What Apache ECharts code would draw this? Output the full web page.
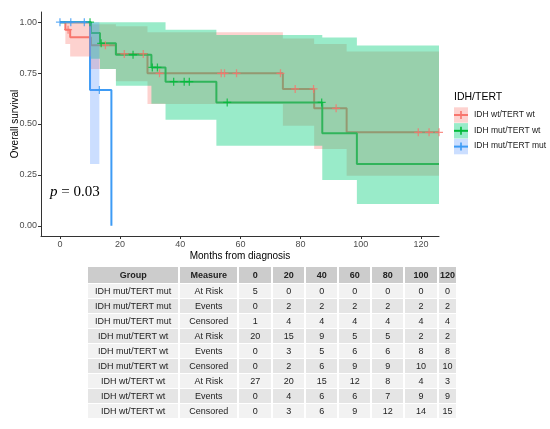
<!DOCTYPE html>
<html>
<head>
<meta charset="utf-8">
<script src="https://cdn.jsdelivr.net/npm/echarts@6.0.0/dist/echarts.min.js"></script>
<style>
  html, body { margin: 0; padding: 0; background: #fff; }
</style>
</head>
<body>
<survival-chart></survival-chart>
<script>
// strata, in legend order
const groups = ['IDH wt/TERT wt', 'IDH mut/TERT wt', 'IDH mut/TERT mut']

// IDH wt/TERT wt : KM steps, conf. band, censor times (months)
const wtwtTimes = [0, 1.8, 3.4, 10.3, 18.6, 29.1, 74.1, 84.5, 95.3, 126]
const wtwtSurv = [1, 0.963, 0.926, 0.887, 0.844, 0.749, 0.672, 0.577, 0.459, 0.459]
const wtwtLower = [1, 0.893, 0.832, 0.77, 0.71, 0.598, 0.491, 0.377, 0.246, 0.246]
const wtwtUpper = [1, 1, 1, 0.99, 0.98, 0.95, 0.92, 0.893, 0.856, 0.856]
const wtwtCensored = [2.7, 15.1, 21.4, 27.7, 33.1, 53.6, 54.7, 58.7, 73.3, 78.2, 84.3, 91.8, 119.1, 122.7, 126]

// IDH mut/TERT wt
const mutwtTimes = [0, 10.3, 13.3, 18.6, 30.4, 35.1, 52.0, 87.2, 98.7, 126]
const mutwtSurv = [1, 0.947, 0.896, 0.840, 0.778, 0.708, 0.606, 0.454, 0.303, 0.303]
const mutwtLower = [1, 0.82, 0.77, 0.688, 0.60, 0.521, 0.393, 0.225, 0.107, 0.107]
const mutwtUpper = [1, 1, 1, 1, 1, 0.963, 0.937, 0.925, 0.885, 0.885]
const mutwtCensored = [10.0, 13.7, 24.3, 30.7, 32.4, 37.8, 41.3, 43.0, 55.6, 87.0]

// IDH mut/TERT mut
const mutmutTimes = [0, 10.0, 13.1, 17.1]
const mutmutSurv = [1, 0.667, 0.667, 0]
const mutmutLower = [1, 0.303, null, null]
const mutmutUpper = [1, 1, null, null]
const mutmutCensored = [0, 3.6, 8.1, 13.1]

const xTicks = [0, 20, 40, 60, 80, 100, 120]
const yTicks = [0, 0.25, 0.5, 0.75, 1]

// numbers at risk table
const tableTimes = [0, 20, 40, 60, 80, 100, 120]
const measures = ['At Risk', 'Events', 'Censored']
const mutmutRisk = [5, 0, 0, 0, 0, 0, 0]
const mutmutEvents = [0, 2, 2, 2, 2, 2, 2]
const mutmutCens = [1, 4, 4, 4, 4, 4, 4]
const mutwtRisk = [20, 15, 9, 5, 5, 2, 2]
const mutwtEvents = [0, 3, 5, 6, 6, 8, 8]
const mutwtCens = [0, 2, 6, 9, 9, 10, 10]
const wtwtRisk = [27, 20, 15, 12, 8, 4, 3]
const wtwtEvents = [0, 4, 6, 6, 7, 9, 9]
const wtwtCens = [0, 3, 6, 9, 12, 14, 15]

const lineColors = ['#F8766D', '#00BA38', '#3D9BF5']
const bandColors = ['rgba(248,118,109,0.33)', 'rgba(0,205,120,0.40)', 'rgba(97,156,255,0.33)']

class SurvivalChart extends HTMLElement {
    shell = null
    chart = null

    connectedCallback() {
        this.shell = this.render()
        this.setupShadow(this.shell, this.css())
        this.drawCurves()
        this.drawTable()
    }

    render() {
        const shell = document.createElement('div')
        shell.setAttribute('class', 'wrap')
        const plot = document.createElement('div')
        plot.setAttribute('class', 'chart')
        shell.appendChild(plot)
        return shell
    }

    // survival just before time t (for placing censor ticks)
    survAt(times, surv, t) {
        let s = surv[0]
        for (let i = 0; i < times.length; i++) {
            if (times[i] <= t) s = surv[i]
        }
        return s
    }

    bandSeries(times, lower, upper, color) {
        return {
            type: 'custom',
            z: 3,
            silent: true,
            data: [[0, 0]],
            renderItem: (params, api) => {
                const top = []
                const back = []
                for (let i = 0; i < times.length - 1; i++) {
                    if (lower[i] == null) continue
                    top.push(api.coord([times[i], upper[i]]), api.coord([times[i + 1], upper[i]]))
                }
                for (let i = times.length - 2; i >= 0; i--) {
                    if (lower[i] == null) continue
                    back.push(api.coord([times[i + 1], lower[i]]), api.coord([times[i], lower[i]]))
                }
                return {
                    type: 'polygon',
                    shape: { points: top.concat(back) },
                    style: { fill: color }
                }
            }
        }
    }

    drawCurves() {
        const strata = [
            [wtwtTimes, wtwtSurv, wtwtLower, wtwtUpper, wtwtCensored],
            [mutwtTimes, mutwtSurv, mutwtLower, mutwtUpper, mutwtCensored],
            [mutmutTimes, mutmutSurv, mutmutLower, mutmutUpper, mutmutCensored]
        ]
        const lines = strata.map((s, k) => ({
            name: groups[k],
            type: 'line',
            step: 'end',
            z: 2,
            silent: true,
            showSymbol: false,
            data: s[0].map((t, i) => [t, s[1][i]]),
            lineStyle: { color: lineColors[k], width: 2 }
        }))
        const bands = strata.map((s, k) => this.bandSeries(s[0], s[2], s[3], bandColors[k]))
        const marks = strata.map((s, k) => ({
            type: 'scatter',
            z: 4,
            silent: true,
            symbol: 'path://M4.2,0H5.8V4.2H10V5.8H5.8V10H4.2V5.8H0V4.2H4.2Z',
            symbolSize: 8,
            itemStyle: { color: lineColors[k] },
            data: s[4].map(t => [t, this.survAt(s[0], s[1], t)])
        }))

        // legend drawn by hand, ggplot style keys
        const legend = [{
            type: 'text', left: 454, top: 92,
            style: { text: 'IDH/TERT', fontSize: 10.5, fill: '#000', fontFamily: 'Liberation Sans' }
        }]
        groups.forEach((g, k) => {
            const cy = 115 + 15.8 * k
            legend.push(
                { type: 'rect', shape: { x: 454, y: cy - 7.7, width: 14, height: 15.4 }, style: { fill: bandColors[k] } },
                { type: 'line', shape: { x1: 454, y1: cy, x2: 468, y2: cy }, style: { stroke: lineColors[k], lineWidth: 2 } },
                { type: 'line', shape: { x1: 461, y1: cy - 4, x2: 461, y2: cy + 4 }, style: { stroke: lineColors[k], lineWidth: 1.6 } },
                {
                    type: 'text', left: 474, top: cy - 5,
                    style: { text: g, fontSize: 8.5, fill: '#1a1a1a', fontFamily: 'Liberation Sans' }
                }
            )
        })
        legend.push({
            type: 'text', left: 50, top: 185,
            style: {
                text: '{i|p} = 0.03',
                fontFamily: 'Liberation Serif', fontSize: 15, fill: '#000',
                rich: { i: { fontStyle: 'italic', fontFamily: 'Liberation Serif', fontSize: 15 } }
            }
        })

        const option = {
            animation: false,
            textStyle: { fontFamily: 'Liberation Sans, Arial, sans-serif' },
            grid: { left: 41, top: 12, width: 398, height: 224, containLabel: false, outerBoundsMode: 'none' },
            xAxis: {
                type: 'value', min: -6.3, max: 126,
                axisLine: { show: true, onZero: false, lineStyle: { color: '#333', width: 1 } },
                axisTick: { show: true, length: 3, customValues: xTicks, lineStyle: { color: '#333' } },
                axisLabel: { customValues: xTicks, fontSize: 9, color: '#4d4d4d', margin: 4 },
                splitLine: { show: false },
                name: 'Months from diagnosis', nameLocation: 'middle', nameGap: 15.5, nameMoveOverlap: false,
                nameTextStyle: { fontSize: 10, color: '#000' }
            },
            yAxis: {
                type: 'value', min: -0.05, max: 1.05,
                axisLine: { show: true, onZero: false, lineStyle: { color: '#333', width: 1 } },
                axisTick: { show: true, length: 3, customValues: yTicks, lineStyle: { color: '#333' } },
                axisLabel: {
                    customValues: yTicks, fontSize: 9, color: '#4d4d4d', margin: 4,
                    formatter: v => v.toFixed(2)
                },
                splitLine: { show: false },
                name: 'Overall survival', nameLocation: 'middle', nameGap: 21, nameRotate: 90, nameMoveOverlap: false,
                nameTextStyle: { fontSize: 10, color: '#000' }
            },
            graphic: legend,
            series: [...lines, ...bands, ...marks]
        }
        this.setupChart(this.shell.querySelector('.chart'), option)
    }

    drawTable() {
        const rows = [
            [groups[2], mutmutRisk, mutmutEvents, mutmutCens],
            [groups[1], mutwtRisk, mutwtEvents, mutwtCens],
            [groups[0], wtwtRisk, wtwtEvents, wtwtCens]
        ]
        const widths = [90, 57, 31.4, 31.3, 31, 30.6, 31, 31.6, 17]
        let html = '<colgroup>' + widths.map(w => `<col style="width:${w}px">`).join('') + '</colgroup>'
        html += '<thead><tr><th>Group</th><th>Measure</th>' + tableTimes.map(t => `<th>${t}</th>`).join('') + '</tr></thead><tbody>'
        rows.forEach(r => {
            measures.forEach((m, j) => {
                html += `<tr><td>${r[0]}</td><td>${m}</td>` + r[j + 1].map(v => `<td>${v}</td>`).join('') + '</tr>'
            })
        })
        html += '</tbody>'
        const table = document.createElement('table')
        table.innerHTML = html
        this.shell.appendChild(table)
    }

    setupChart(el, option) {
        const chart = echarts.init(el)
        chart.setOption(option)
        this.chart = chart
        return chart
    }

    setupShadow(shell, style) {
        const shadow = this.attachShadow({ mode: 'open' })
        shadow.appendChild(style)
        shadow.appendChild(shell)
    }

    css() {
        const style = document.createElement('style')
        style.textContent = `
            .wrap{ position:relative; width:550px; height:429px; }
            .chart{ position:absolute; left:0; top:0; width:550px; height:429px; }
            table{
                position:absolute; left:86px; top:265.7px; width:372px;
                table-layout:fixed; border-collapse:separate; border-spacing:2px 1px;
                font-family:'Liberation Sans', Arial, sans-serif; font-size:9px; color:#222;
            }
            th, td{ padding:0; text-align:center; white-space:nowrap; overflow:visible; }
            th{ height:16px; background:#cccccc; font-weight:bold; }
            td{ height:14px; }
            tbody tr:nth-child(odd) td{ background:#f2f2f2; }
            tbody tr:nth-child(even) td{ background:#e5e5e5; }
        `
        return style
    }
}

customElements.define('survival-chart', SurvivalChart)
</script>
</body>
</html>
